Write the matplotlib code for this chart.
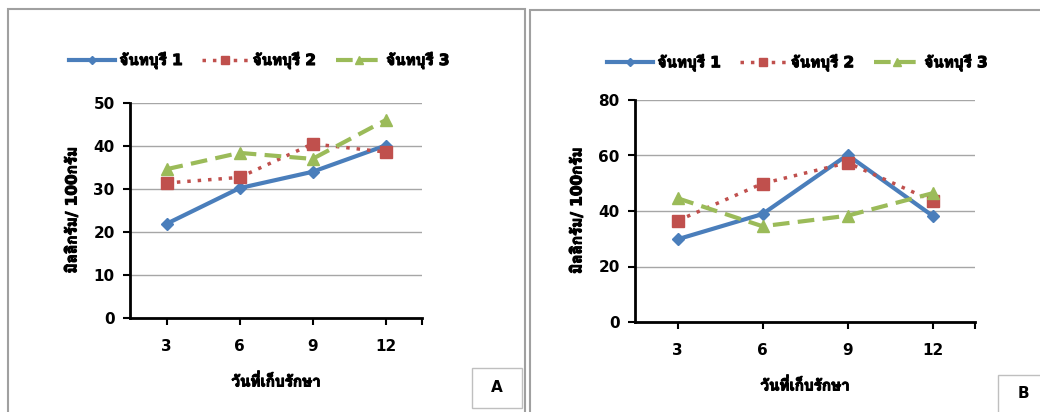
import matplotlib
matplotlib.use("Agg")
import matplotlib.pyplot as plt
import matplotlib.patheffects as pe
from matplotlib import font_manager
from matplotlib.ft2font import FT2Font
from matplotlib.patches import Rectangle

# ข้อมูล
days = ["3", "6", "9", "12"]
series_names = ["จันทบุรี 1", "จันทบุรี 2", "จันทบุรี 3"]
a_s1 = [21.9, 30.2, 34.0, 40.1]
a_s2 = [31.4, 32.7, 40.5, 38.6]
a_s3 = [34.6, 38.4, 37.0, 46.0]
b_s1 = [29.8, 38.9, 60.2, 38.3]
b_s2 = [36.5, 49.9, 57.4, 43.7]
b_s3 = [44.6, 34.5, 38.3, 46.4]
ylabel = "มิลลิกรัม/ 100กรัม"
xlabel = "วันที่เก็บรักษา"

# หาฟอนต์ที่มีอักษรไทย (ถ้ามีตัวหนาให้ใช้ก่อน)
thai_font = None
thai_bold = None
for f in font_manager.fontManager.ttflist:
    try:
        if 0x0E08 in FT2Font(f.fname).get_charmap():
            if thai_font is None:
                thai_font = f.name
            if f.weight in (700, "bold") and thai_bold is None:
                thai_bold = f.name
    except Exception:
        pass
thai = thai_bold or thai_font
fam = ["DejaVu Sans"] + ([thai] if thai else [])
plt.rcParams["font.family"] = fam
plt.rcParams["font.weight"] = "bold"
fake_bold = [pe.withStroke(linewidth=0.8, foreground="black")]

W, H = 1040, 412
fig = plt.figure(figsize=(W / 100, H / 100), dpi=100)
fig.patch.set_facecolor("white")

colors = ["#4A7EBB", "#C0504D", "#9BBB59"]
styles = [dict(ls="-", lw=3, marker="D", ms=6),
          dict(ls=(0, (1, 2)), lw=2.5, marker="s", ms=8),
          dict(ls=(0, (4, 2)), lw=3, marker="^", ms=8)]


def px(x0, y0, x1, y1):
    return [x0 / W, 1 - y1 / H, (x1 - x0) / W, (y1 - y0) / H]


def panel(rect, data, ymax, ystep, legend_y, leg_x):
    ax = fig.add_axes(rect)
    xs = range(len(days))
    for i, vals in enumerate(data):
        ax.plot(xs, vals, color=colors[i], label=series_names[i],
                markerfacecolor=colors[i], markeredgecolor=colors[i], **styles[i])
    ax.set_xlim(-0.5, len(days) - 0.5)
    ax.set_ylim(0, ymax)
    ax.set_yticks(range(0, ymax + 1, ystep))
    ax.set_xticks(list(xs))
    ax.set_xticklabels(days)
    ax.set_xticks([len(days) - 0.5], minor=True)
    ax.tick_params(axis="x", which="minor", length=5, width=1.5)
    ax.grid(axis="y", color="#a6a6a6", lw=1)
    ax.set_axisbelow(True)
    for s in ["top", "right"]:
        ax.spines[s].set_visible(False)
    for s in ["left", "bottom"]:
        ax.spines[s].set_linewidth(2)
    ax.tick_params(axis="both", labelsize=11, width=1.5, length=5, pad=6)
    ax.tick_params(axis="x", pad=10)
    yl = ax.set_ylabel(ylabel, fontsize=11, fontweight="bold", labelpad=10)
    xl = ax.set_xlabel(xlabel, fontsize=11, fontweight="bold", labelpad=14)
    yl.set_path_effects(fake_bold)
    xl.set_path_effects(fake_bold)
    leg = ax.legend(loc="center left", bbox_to_anchor=(leg_x, legend_y), ncol=3,
                    frameon=False, handlelength=3.0, columnspacing=1.3,
                    handletextpad=0.3, borderaxespad=0, numpoints=1, markerscale=0.75,
                    prop=dict(family=fam, weight="bold", size=11))
    for t in leg.get_texts():
        t.set_path_effects(fake_bold)
    return ax


axA = panel(px(130, 103, 422, 318), [a_s1, a_s2, a_s3], 50, 10, 1.2, -0.23)
axB = panel(px(635, 100, 975, 322), [b_s1, b_s2, b_s3], 80, 20, 1.17, -0.1)

# กรอบของแต่ละภาพ
for (x0, y0, x1, y1) in [(8, 9, 525, 420), (530, 10, 1050, 420)]:
    fig.patches.append(Rectangle((x0 / W, 1 - y1 / H), (x1 - x0) / W, (y1 - y0) / H,
                                 transform=fig.transFigure, fill=False,
                                 ec="#a0a0a0", lw=1.5))

for (x0, y0, x1, y1, t) in [(472, 368, 522, 408, "A"), (998, 375, 1050, 420, "B")]:
    fig.patches.append(Rectangle((x0 / W, 1 - y1 / H), (x1 - x0) / W, (y1 - y0) / H,
                                 transform=fig.transFigure, fill=False,
                                 ec="#bfbfbf", lw=1))
    fig.text((x0 + 25) / W, 1 - (min(y1, 412) + y0) / 2 / H, t, fontsize=11,
             fontweight="bold", ha="center", va="center")

fig.savefig("out.png", dpi=100)
